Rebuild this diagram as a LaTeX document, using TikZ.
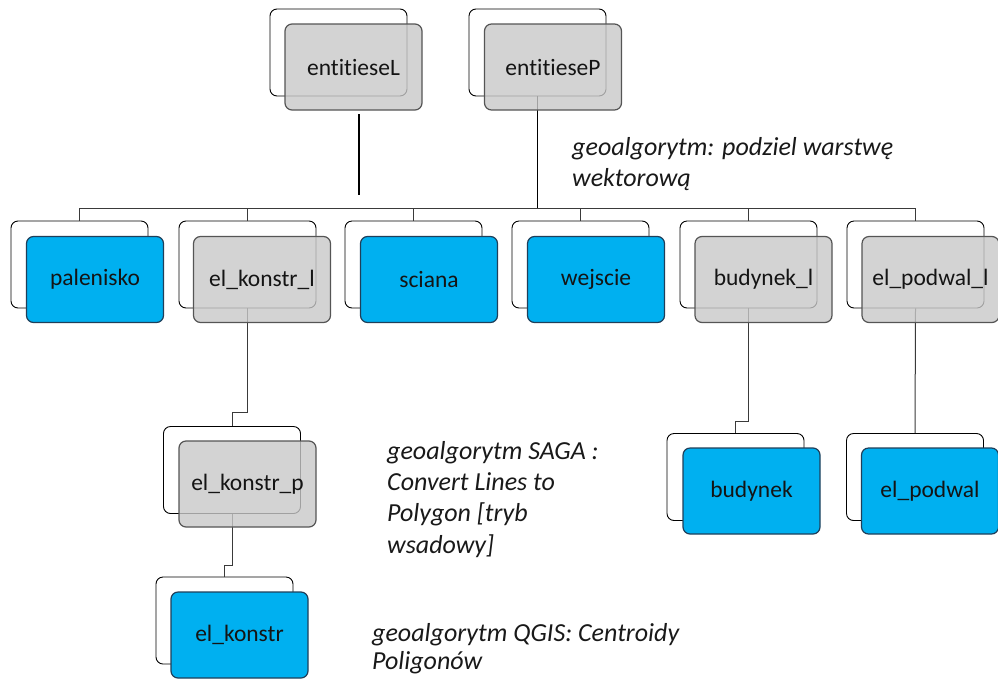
\documentclass[tikz,border=0pt]{standalone}
\usepackage{fontspec}
\setmainfont{Carlito}[Ligatures=NoCommon]
\usepackage{tikz}
\usetikzlibrary{positioning,calc}
\usepackage{xcolor}
\definecolor{LayerBlue}{HTML}{00B0F0}
\definecolor{BlueEdge}{HTML}{1F3F5A}
\definecolor{LayerGray}{HTML}{C8C8C8}
\definecolor{GrayEdge}{HTML}{555555}
\definecolor{LinkGray}{HTML}{3A3A3A}

\begin{document}
\begin{tikzpicture}[
    x=1pt, y=-1pt,
    backbox/.style={draw=black, fill=white, rounded corners=7pt, line width=0.9pt, minimum width=137pt, minimum height=87pt, inner sep=0pt},
    graybox/.style={draw=GrayEdge, fill=LayerGray, fill opacity=0.8, text opacity=1, rounded corners=7pt, line width=1.2pt, minimum width=137pt, minimum height=86pt, font=\fontsize{23.5}{27}\selectfont, text=black!92},
    bluebox/.style={graybox, draw=BlueEdge, fill=LayerBlue, fill opacity=1},
    link/.style={draw=LinkGray, line width=1pt},
    toplink/.style={draw=black, line width=1.6pt},
    algo/.style={anchor=north west, inner sep=0pt, align=left, font=\fontsize{26}{31.3}\selectfont\itshape, text=black!90}
  ]
    \useasboundingbox (0,0) rectangle (998,678);

    % back layers
    \node[backbox] (entLb) at (338.5, 52.5) {};
    \node[backbox] (entPb) at (537.5, 52.5) {};
    \node[backbox] (palb) at (79.5, 264.5) {};
    \node[backbox] (konlb) at (247.5, 264.5) {};
    \node[backbox] (scib) at (413.5, 264.5) {};
    \node[backbox] (wejb) at (580.5, 264.5) {};
    \node[backbox] (budlb) at (748.5, 264.5) {};
    \node[backbox] (podlb) at (915.5, 264.5) {};
    \node[backbox] (konpb) at (232, 470) {};
    \node[backbox] (konb) at (224.5, 620.5) {};
    \node[backbox] (budb) at (735.5, 477) {};
    \node[backbox] (podb) at (915, 477) {};

    % connectors
    \coordinate (topL) at (359, 114);
    \coordinate (endL) at (359, 195);
    \coordinate (bus) at (537.5, 208);
    \draw[toplink] (topL) -- (endL);
    \draw[toplink] (entPb.south) -- (bus);
    \foreach \n in {palb,konlb,scib,wejb,budlb,podlb}
      \draw[link] (bus) -| (\n.north);
    \draw[link] (konlb.south) -- ++(0,104) -| (konpb.north);
    \draw[link] (konpb.south) -- ++(0,52) -| (konb.north);
    \draw[link] (budlb.south) -- ++(0,113) -| (budb.north);
    \draw[link] (podlb.south) -- (podb.north);

    % front layers
    \node[graybox] (entL) at (353.5, 67) {entitieseL};
    \node[graybox] (entP) at (553, 67) {entitieseP};
    \node[bluebox] (pal) at (95, 279.5) {palenisko};
    \node[graybox] (konl) at (262, 279.5) {el\_konstr\_l};
    \node[bluebox] (sci) at (429, 279.5) {sciana};
    \node[bluebox] (wej) at (596, 279.5) {wejscie};
    \node[graybox] (budl) at (763.5, 279.5) {budynek\_l};
    \node[graybox] (podl) at (930.5, 279.5) {el\_podwal\_l};
    \node[graybox] (konp) at (247.5, 484) {el\_konstr\_p};
    \node[bluebox] (kon) at (239.5, 635) {el\_konstr};
    \node[bluebox] (bud) at (751.5, 491) {budynek};
    \node[bluebox] (pod) at (930, 491) {el\_podwal};

    % algorithm notes
    \node[algo] (splitnote) at (572, 137) {geoalgorytm: podziel warstwę\\wektorową};
    \node[algo] (saganote) at (387, 441) {geoalgorytm SAGA :\\Convert Lines to\\Polygon [tryb\\wsadowy]};
    \node[algo, font=\fontsize{26}{28}\selectfont\itshape] (qgisnote) at (372, 623) {geoalgorytm QGIS: Centroidy\\Poligonów};
  \end{tikzpicture}
\end{document}
